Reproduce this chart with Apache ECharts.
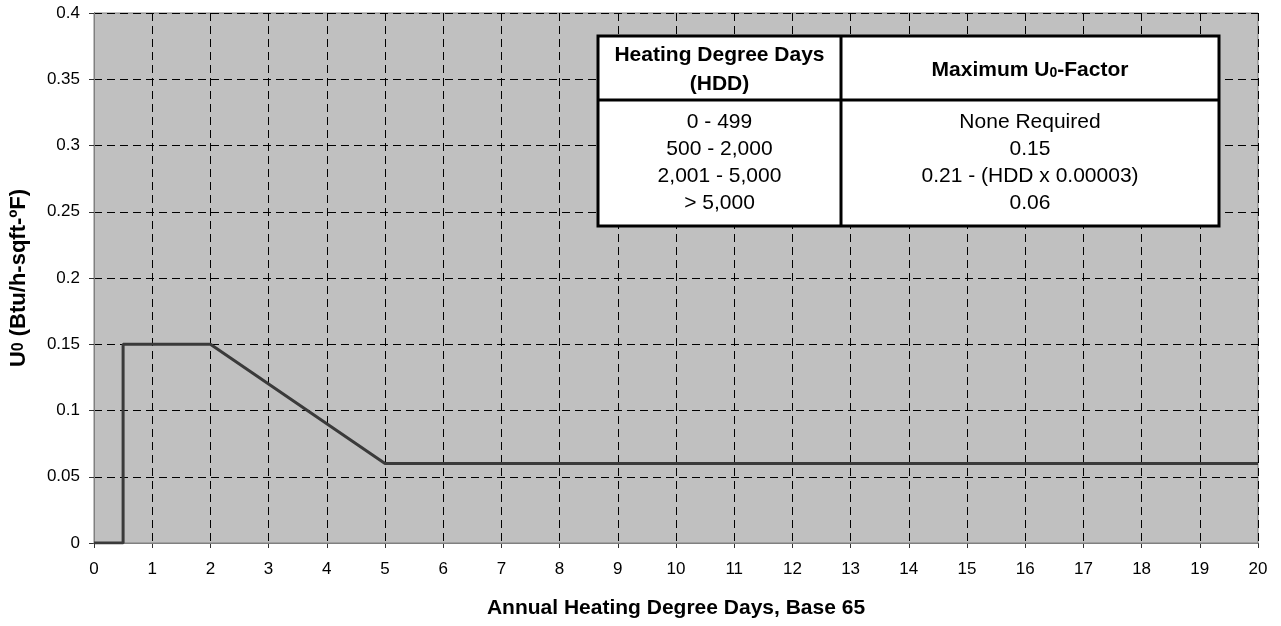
<!DOCTYPE html>
<html>
<head>
<meta charset="utf-8">
<style>
html,body{margin:0;padding:0;background:#fff;}
#chart{width:1281px;height:626px;}
</style>
<script src="https://cdn.jsdelivr.net/npm/echarts@6/dist/echarts.min.js"></script>
</head>
<body>
<div id="chart"></div>
<script>
// Data (HDD in thousands, Uo factor)
var hddThousands = [0, 0.5, 0.5, 2, 5, 20];
var uFactor = [0, 0, 0.15, 0.15, 0.06, 0.06];

// Table content
var tableHeaderCol1 = ['Heating Degree Days', '(HDD)'];
var tableHeaderCol2 = '{b|Maximum U}{s|0}{b|-Factor}';
var tableHdd = ['0 - 499', '500 - 2,000', '2,001 - 5,000', '> 5,000'];
var tableU = ['None Required', '0.15', '0.21 - (HDD x 0.00003)', '0.06'];

var FONT = '"Liberation Sans", Arial, sans-serif';

var chart = echarts.init(document.getElementById('chart'));

var points = hddThousands.map(function (x, i) { return [x, uFactor[i]]; });

// table geometry
var tL = 598, tT = 36, tR = 1219, tB = 226, tMid = 841, tHead = 100;
var c1 = (tL + tMid) / 2, c2 = (tMid + tR) / 2;
var rowY = [122, 149, 176, 203];

var graphics = [
  {type: 'rect', z: 10, shape: {x: tL, y: tT, width: tR - tL, height: tB - tT},
   style: {fill: '#fff', stroke: '#000', lineWidth: 3}},
  {type: 'line', z: 11, shape: {x1: tMid, y1: tT, x2: tMid, y2: tB}, style: {stroke: '#000', lineWidth: 3}},
  {type: 'line', z: 11, shape: {x1: tL, y1: tHead, x2: tR, y2: tHead}, style: {stroke: '#000', lineWidth: 3}},
  {type: 'text', z: 12, style: {text: tableHeaderCol1[0], x: c1, y: 55, align: 'center', verticalAlign: 'middle',
     textAlign: 'center', textVerticalAlign: 'middle', font: 'bold 21px ' + FONT, fill: '#000'}},
  {type: 'text', z: 12, style: {text: tableHeaderCol1[1], x: c1, y: 84, align: 'center', verticalAlign: 'middle',
     textAlign: 'center', textVerticalAlign: 'middle', font: 'bold 21px ' + FONT, fill: '#000'}},
  {type: 'text', z: 12, style: {text: tableHeaderCol2, x: c2, y: 70, align: 'center', verticalAlign: 'middle',
     textAlign: 'center', textVerticalAlign: 'middle', fill: '#000',
     rich: {
       b: {fontSize: 21, fontWeight: 'bold', fontFamily: FONT, fill: '#000', color: '#000'},
       s: {fontSize: 14, fontWeight: 'bold', fontFamily: FONT, fill: '#000', color: '#000', verticalAlign: 'bottom', padding: [6, 0, 0, 0]}
     }}}
];
tableHdd.forEach(function (t, i) {
  graphics.push({type: 'text', z: 12, style: {text: t, x: c1, y: rowY[i], align: 'center', verticalAlign: 'middle',
    textAlign: 'center', textVerticalAlign: 'middle', font: '21px ' + FONT, fill: '#000'}});
});
tableU.forEach(function (t, i) {
  graphics.push({type: 'text', z: 12, style: {text: t, x: c2, y: rowY[i], align: 'center', verticalAlign: 'middle',
    textAlign: 'center', textVerticalAlign: 'middle', font: '21px ' + FONT, fill: '#000'}});
});

var option = {
  animation: false,
  backgroundColor: '#ffffff',
  textStyle: {fontFamily: FONT},
  grid: {left: 94, top: 13, right: 23, bottom: 83, show: true, backgroundColor: '#C0C0C0', borderColor: '#808080', borderWidth: 1},
  xAxis: [{
    type: 'value', min: 0, max: 20, interval: 1,
    name: 'Annual Heating Degree Days, Base 65',
    nameLocation: 'middle', nameGap: 55,
    nameTextStyle: {fontFamily: FONT, fontSize: 21, fontWeight: 'bold', color: '#000'},
    axisLine: {show: true, onZero: false, lineStyle: {color: '#333', width: 1}},
    axisTick: {show: true, length: 5, lineStyle: {color: '#333'}},
    axisLabel: {fontFamily: FONT, fontSize: 17, color: '#000', margin: 18},
    splitLine: {show: true, lineStyle: {color: '#000', type: [8, 5], width: 1}}
  }, {
    type: 'value', min: 0, max: 20, position: 'top', z: 3,
    axisLine: {show: true, lineStyle: {color: '#808080', width: 1}},
    axisTick: {show: false}, axisLabel: {show: false}, splitLine: {show: false}
  }],
  yAxis: [{
    type: 'value', min: 0, max: 0.4, interval: 0.05,
    name: '{b|U}{s|0}{b| (Btu/h-sqft-ºF)}',
    nameLocation: 'middle', nameGap: 64, nameRotate: 90,
    nameTextStyle: {color: '#000', rich: {
      b: {fontFamily: FONT, fontSize: 22, fontWeight: 'bold', color: '#000'},
      s: {fontFamily: FONT, fontSize: 16, fontWeight: 'bold', color: '#000'}
    }},
    axisLine: {show: true, onZero: false, lineStyle: {color: '#333', width: 1}},
    axisTick: {show: true, length: 5, lineStyle: {color: '#333'}},
    axisLabel: {fontFamily: FONT, fontSize: 17, color: '#000', margin: 14},
    splitLine: {show: true, lineStyle: {color: '#000', type: [8, 5], width: 1}}
  }, {
    type: 'value', min: 0, max: 0.4, position: 'right', z: 3,
    axisLine: {show: true, lineStyle: {color: '#808080', width: 1}},
    axisTick: {show: false}, axisLabel: {show: false}, splitLine: {show: false}
  }],
  series: [{
    type: 'line',
    data: points,
    xAxisIndex: 0, yAxisIndex: 0,
    showSymbol: false,
    symbol: 'none',
    lineStyle: {color: '#3a3a3a', width: 3},
    z: 4
  }],
  graphic: graphics
};
chart.setOption(option);
</script>
</body>
</html>
